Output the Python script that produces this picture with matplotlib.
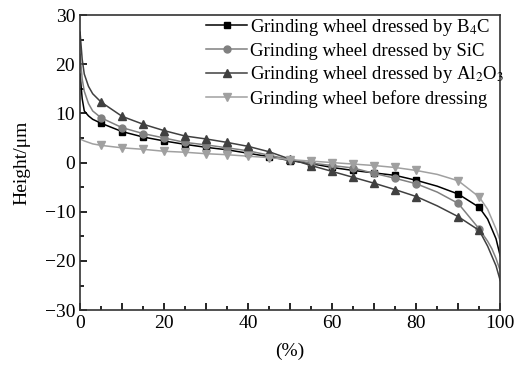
import matplotlib
matplotlib.use('Agg')
import matplotlib.pyplot as plt
from matplotlib.ticker import MultipleLocator, FuncFormatter

plt.rcParams['font.family'] = ['Liberation Serif', 'DejaVu Serif']
plt.rcParams['mathtext.fontset'] = 'stix'

# percentage of bearing area
x = [0, 0.5, 1, 2, 3, 5, 10, 15, 20, 25, 30, 35, 40, 45, 50, 55, 60,
     65, 70, 75, 80, 85, 90, 95, 97, 98, 99, 100]
marker_x = [5, 10, 15, 20, 25, 30, 35, 40, 45, 50, 55, 60, 65, 70, 75, 80, 90, 95]

b4c = [18, 13, 10.5, 9.5, 8.8, 8.0, 6.3, 5.2, 4.4, 3.7, 3.1, 2.6, 1.9, 1.2, 0.4,
       -0.2, -1.0, -1.6, -2.1, -2.6, -3.6, -4.8, -6.4, -9.1, -11.5, -13.5, -15.5, -19]
sic = [22, 17, 14.5, 12, 10.5, 9.1, 7.1, 5.9, 5.0, 4.1, 3.6, 3.0, 2.4, 1.5, 0.6,
       -0.1, -0.6, -1.1, -2.2, -3.2, -4.3, -6.0, -8.3, -13.5, -16, -17.5, -19.5, -22]
al2o3 = [26.5, 21, 18, 15.5, 14, 12.3, 9.4, 7.8, 6.5, 5.4, 4.8, 4.1, 3.3, 2.2, 0.7,
         -0.6, -1.8, -3.0, -4.2, -5.5, -6.9, -8.8, -11.0, -13.8, -17, -19, -21, -24]
before = [4.8, 4.6, 4.4, 4.1, 3.8, 3.5, 3.0, 2.7, 2.3, 2.1, 1.8, 1.6, 1.3, 1.0, 0.6,
          0.3, 0.0, -0.3, -0.6, -1.0, -1.6, -2.4, -3.7, -7.0, -9.5, -11.5, -13.5, -16]

labels = ['Grinding wheel dressed by B$_4$C',
          'Grinding wheel dressed by SiC',
          'Grinding wheel dressed by Al$_2$O$_3$',
          'Grinding wheel before dressing']

marks = [x.index(v) for v in marker_x]

fig = plt.figure(figsize=(5.2, 3.67), dpi=100)
ax = fig.add_axes([0.154, 0.155, 0.808, 0.804])

ax.plot(x, b4c, color='black', lw=1.1, marker='s', ms=5, markevery=marks, label=labels[0])
ax.plot(x, sic, color='#808080', lw=1.1, marker='o', ms=5, markevery=marks, label=labels[1])
ax.plot(x, al2o3, color='#404040', lw=1.1, marker='^', ms=5.5, markevery=marks, label=labels[2])
ax.plot(x, before, color='#a0a0a0', lw=1.1, marker='v', ms=5.5, markevery=marks, label=labels[3])

ax.set_xlim(0, 100)
ax.set_ylim(-30, 30)
ax.xaxis.set_major_locator(MultipleLocator(10))
ax.xaxis.set_minor_locator(MultipleLocator(5))
ax.xaxis.set_major_formatter(FuncFormatter(lambda v, p: '%d' % v if int(round(v)) % 20 == 0 else ''))
ax.yaxis.set_major_locator(MultipleLocator(10))
ax.yaxis.set_minor_locator(MultipleLocator(5))
ax.yaxis.set_major_formatter(FuncFormatter(lambda v, p: ('%d' % v).replace('-', '\u2212')))
ax.tick_params(which='both', direction='in', labelsize=14, width=1.2)
ax.tick_params(which='major', length=5)
ax.tick_params(which='minor', length=3)
for s in ax.spines.values():
    s.set_linewidth(1.2)
    s.set_color('#333333')

ax.set_xlabel('(%)', fontsize=14, labelpad=8)
ax.set_ylabel('Height/\u03bcm', fontsize=14, labelpad=10)

ax.legend(loc='upper left', bbox_to_anchor=(0.295, 1.0), frameon=False, fontsize=13.5,
          handlelength=2.2, handletextpad=0.15, labelspacing=0.25, borderpad=0.1,
          borderaxespad=0)

fig.savefig('out.png', dpi=100)
